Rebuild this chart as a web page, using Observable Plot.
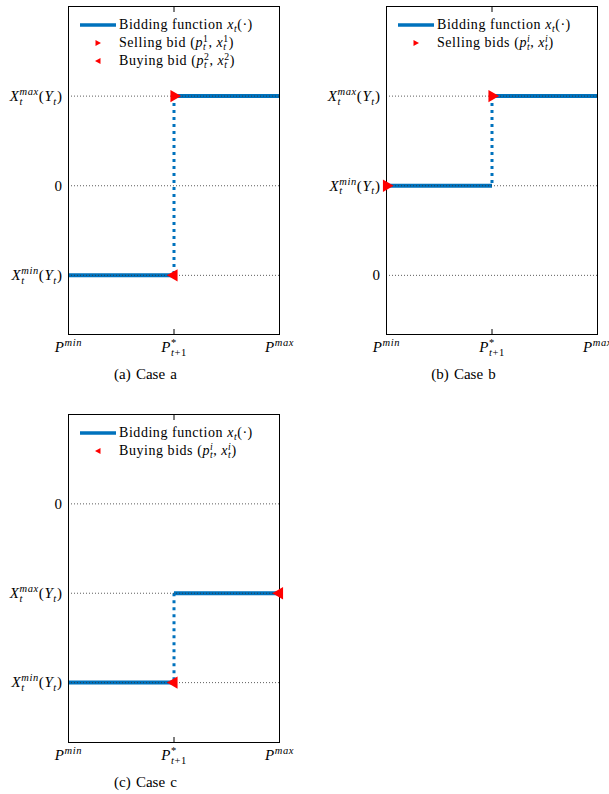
<!DOCTYPE html>
<html>
<head>
<meta charset="utf-8">
<script src="https://cdn.jsdelivr.net/npm/d3@7"></script>
<script src="https://cdn.jsdelivr.net/npm/@observablehq/plot@0.6"></script>
<style>
html, body { margin: 0; padding: 0; background: #fff; }
body { width: 609px; height: 794px; overflow: hidden; position: relative; font-family: "Liberation Serif", "Times New Roman", "DejaVu Serif", serif; color: #000; }
.panel { position: absolute; width: 300px; height: 390px; }
.panel > svg { position: absolute; left: 0; top: 0; }
.legend { position: absolute; left: 80px; top: 16px; font-size: 14px; letter-spacing: 0.55px; }
.row { display: flex; align-items: center; height: 18px; white-space: nowrap; }
.sw { display: block; width: 36px; height: 18px; margin-right: 3px; flex: none; }
.caption { position: absolute; top: 366px; left: 0; width: 291px; text-align: center; font-size: 15px; word-spacing: 1.5px; }
.sub { font-size: 0.7em; vertical-align: -0.3em; }
.sup { font-size: 0.7em; vertical-align: 0.55em; }
.ss { display: inline-flex; flex-direction: column; font-size: 0.7em; line-height: 0.85; vertical-align: 0.55em; }
</style>
</head>
<body>
<script>
// ---------------- data ----------------
const priceTicks = [0, 1, 2];                       // P^min, P*_{t+1}, P^max
const priceTickLabels = ["P^{min}", "P^*_{t+1}", "P^{max}"];
const levelTickLabels = ["X_t^{min}(Y_t)", "0", "X_t^{max}(Y_t)"];

// case a
const caseA_levels = [-1, 0, 1];                    // X^min, 0, X^max
const caseA_yDomain = [-1.66, 2];
const caseA_low = -1, caseA_high = 1;
const caseA_bidPrices = [1, 1];
const caseA_bidQuantities = [1, -1];
const caseA_bidSides = ["sell", "buy"];
const caseA_legend = ["Selling bid $(p_t^1, x_t^1)$", "Buying bid $(p_t^2, x_t^2)$"];
const caseA_legendSides = ["sell", "buy"];
const caseA_caption = "(a) Case a";

// case b
const caseB_levels = [1, 0, 2];
const caseB_yDomain = [-0.66, 3];
const caseB_low = 1, caseB_high = 2;
const caseB_bidPrices = [0, 1];
const caseB_bidQuantities = [1, 2];
const caseB_bidSides = ["sell", "sell"];
const caseB_legend = ["Selling bids $(p_t^i, x_t^i)$"];
const caseB_legendSides = ["sell"];
const caseB_caption = "(b) Case b";

// case c
const caseC_levels = [-2, 0, -1];
const caseC_yDomain = [-2.67, 1];
const caseC_low = -2, caseC_high = -1;
const caseC_bidPrices = [1, 2];
const caseC_bidQuantities = [-2, -1];
const caseC_bidSides = ["buy", "buy"];
const caseC_legend = ["Buying bids $(p_t^i, x_t^i)$"];
const caseC_legendSides = ["buy"];
const caseC_caption = "(c) Case c";

const functionLegend = "Bidding function $x_t(·)$";

// ---------------- styling ----------------
const blue = "#0072bd";
const red = "#ff0000";
const FONT = '"Liberation Serif"';
const TICK_SIZE = 15;
const TICK_LS = 0.6;   // letter spacing of tick labels

// ---------------- rich text helpers ----------------
const ctx = document.createElement("canvas").getContext("2d");
function textWidth(str, size, italic) {
  ctx.font = `${italic ? "italic " : ""}${size}px ${FONT}, "Times New Roman", serif`;
  return ctx.measureText(str).width + TICK_LS * [...str].length;
}
const isItalicChar = ch => /[A-Za-z]/.test(ch);
function runs(str) {
  const out = [];
  for (const ch of str) {
    const it = isItalicChar(ch);
    const last = out[out.length - 1];
    if (last && last.italic === it) last.s += ch; else out.push({s: ch, italic: it});
  }
  return out;
}
const runsWidth = (rs, size) => d3.sum(rs, r => textWidth(r.s, size, r.italic));
function parseMath(s) {
  const parts = [];
  let i = 0;
  const arg = () => {
    if (s[i] === "{") { const j = s.indexOf("}", i); const a = s.slice(i + 1, j); i = j + 1; return a; }
    return s[i++];
  };
  while (i < s.length) {
    const c = s[i];
    if (c === "_" || c === "^") {
      i++;
      let last = parts[parts.length - 1];
      if (!last || !last.script) { last = {script: true}; parts.push(last); }
      last[c === "_" ? "sub" : "sup"] = arg();
    } else {
      const last = parts[parts.length - 1];
      if (last && !last.script) last.t += c; else parts.push({t: c});
      i++;
    }
  }
  return parts;
}
function svgRich(textEl, label, size) {
  const ns = "http://www.w3.org/2000/svg";
  textEl.textContent = "";
  textEl.setAttribute("letter-spacing", TICK_LS);
  let cur = 0;
  const add = (r, fs, target, dx) => {
    const ts = document.createElementNS(ns, "tspan");
    ts.textContent = r.s;
    if (r.italic) ts.setAttribute("font-style", "italic");
    if (fs) ts.setAttribute("font-size", fs);
    if (target !== cur) { ts.setAttribute("dy", target - cur); cur = target; }
    if (dx) ts.setAttribute("dx", dx);
    textEl.appendChild(ts);
  };
  for (const p of parseMath(label)) {
    if (!p.script) { runs(p.t).forEach(r => add(r, null, 0, 0)); continue; }
    const ss = size * 0.7;
    const items = [];
    if (p.sub != null) { const rs = runs(p.sub); items.push({rs, off: size * 0.25, w: runsWidth(rs, ss)}); }
    if (p.sup != null) { const rs = runs(p.sup); items.push({rs, off: -size * 0.4, w: runsWidth(rs, ss)}); }
    items.sort((a, b) => a.w - b.w);
    items.forEach((it, k) => it.rs.forEach((r, j) => add(r, ss, it.off, k && !j ? -items[0].w : 0)));
  }
}
const htmlRuns = str => runs(str).map(r => r.italic ? `<i>${r.s}</i>` : r.s).join("");
function htmlMath(s) {
  return parseMath(s).map(p => {
    if (!p.script) return htmlRuns(p.t);
    if (p.sub != null && p.sup != null)
      return `<span class="ss"><span>${htmlRuns(p.sup)}</span><span>${htmlRuns(p.sub)}</span></span>`;
    if (p.sup != null) return `<span class="sup">${htmlRuns(p.sup)}</span>`;
    return `<span class="sub">${htmlRuns(p.sub)}</span>`;
  }).join("");
}
const htmlRich = label => label.split("$").map((seg, k) => k % 2 ? htmlMath(seg) : seg).join("");

function swatch(kind) {
  if (kind === "line") return `<svg class="sw" viewBox="0 0 36 18"><line x1="0" x2="36" y1="9" y2="9" stroke="${blue}" stroke-width="3.3"/></svg>`;
  const pts = kind === "sell" ? "15.5,6 21,9 15.5,12" : "20.5,6 15,9 20.5,12";
  return `<svg class="sw" viewBox="0 0 36 18"><polygon points="${pts}" fill="${red}"/></svg>`;
}

// ---------------- panel ----------------
function drawPanel({left, top, levels, yDomain, low, high, bidPrices, bidQuantities, bidSides, legend, legendSides, caption}) {
  const container = document.createElement("div");
  container.className = "panel";
  container.style.left = left + "px";
  container.style.top = top + "px";
  document.body.appendChild(container);

  const steps = [
    {x1: priceTicks[0], x2: priceTicks[1], y: low},
    {x1: priceTicks[1], x2: priceTicks[2], y: high}
  ];
  const jump = [{x: priceTicks[1], y1: low, y2: high}];
  const bids = bidPrices.map((p, i) => ({p, q: bidQuantities[i], side: bidSides[i]}));
  const levelLabel = new Map(levels.map((v, i) => [v, levelTickLabels[i]]));
  const priceLabel = new Map(priceTicks.map((v, i) => [v, priceTickLabels[i]]));

  const svg = Plot.plot({
    width: 300, height: 360,
    marginTop: 6, marginRight: 21, marginBottom: 26, marginLeft: 68,
    style: {fontFamily: `${FONT}, "Times New Roman", serif`, fontSize: TICK_SIZE + "px", background: "transparent", overflow: "visible"},
    x: {domain: [priceTicks[0], priceTicks[2]]},
    y: {domain: yDomain},
    marks: [
      Plot.link(steps, {x1: "x1", x2: "x2", y1: "y", y2: "y", stroke: blue, strokeWidth: 4}),
      Plot.link(jump, {x1: "x", x2: "x", y1: "y2", y2: "y1", stroke: blue, strokeWidth: 3, strokeDasharray: "3 4"}),
      Plot.ruleY(levels, {stroke: "#333", strokeWidth: 0.8, strokeDasharray: "1 2"}),
      Plot.frame({stroke: "#000", strokeWidth: 1}),
      Plot.axisY(levels, {tickSize: 0, tickPadding: 6, tickFormat: v => levelLabel.get(v), label: null}),
      Plot.axisX(priceTicks, {tickSize: 0, tickPadding: 7, tickFormat: v => priceLabel.get(v), label: null}),
      Plot.axisX([priceTicks[1]], {anchor: "bottom", tickSize: -5, tickFormat: () => "", label: null}),
      Plot.axisX([priceTicks[1]], {anchor: "top", tickSize: -5, tickFormat: () => "", label: null}),
      Plot.dot(bids, {x: "p", y: "q", symbol: "triangle", r: 4.6, fill: red, rotate: d => d.side === "sell" ? 90 : -90})
    ]
  });
  svg.querySelectorAll('g[aria-label="y-axis tick label"] text, g[aria-label="x-axis tick label"] text')
    .forEach(t => { if (t.textContent) svgRich(t, t.textContent, TICK_SIZE); });
  container.appendChild(svg);

  const lg = document.createElement("div");
  lg.className = "legend";
  lg.innerHTML = `<div class="row">${swatch("line")}<span>${htmlRich(functionLegend)}</span></div>` +
    legend.map((l, i) => `<div class="row">${swatch(legendSides[i])}<span>${htmlRich(l)}</span></div>`).join("");
  container.appendChild(lg);

  const cap = document.createElement("div");
  cap.className = "caption";
  cap.textContent = caption;
  container.appendChild(cap);
}

drawPanel({left: 0, top: 0, levels: caseA_levels, yDomain: caseA_yDomain, low: caseA_low, high: caseA_high,
  bidPrices: caseA_bidPrices, bidQuantities: caseA_bidQuantities, bidSides: caseA_bidSides,
  legend: caseA_legend, legendSides: caseA_legendSides, caption: caseA_caption});
drawPanel({left: 318, top: 0, levels: caseB_levels, yDomain: caseB_yDomain, low: caseB_low, high: caseB_high,
  bidPrices: caseB_bidPrices, bidQuantities: caseB_bidQuantities, bidSides: caseB_bidSides,
  legend: caseB_legend, legendSides: caseB_legendSides, caption: caseB_caption});
drawPanel({left: 0, top: 408, levels: caseC_levels, yDomain: caseC_yDomain, low: caseC_low, high: caseC_high,
  bidPrices: caseC_bidPrices, bidQuantities: caseC_bidQuantities, bidSides: caseC_bidSides,
  legend: caseC_legend, legendSides: caseC_legendSides, caption: caseC_caption});
</script>
</body>
</html>
